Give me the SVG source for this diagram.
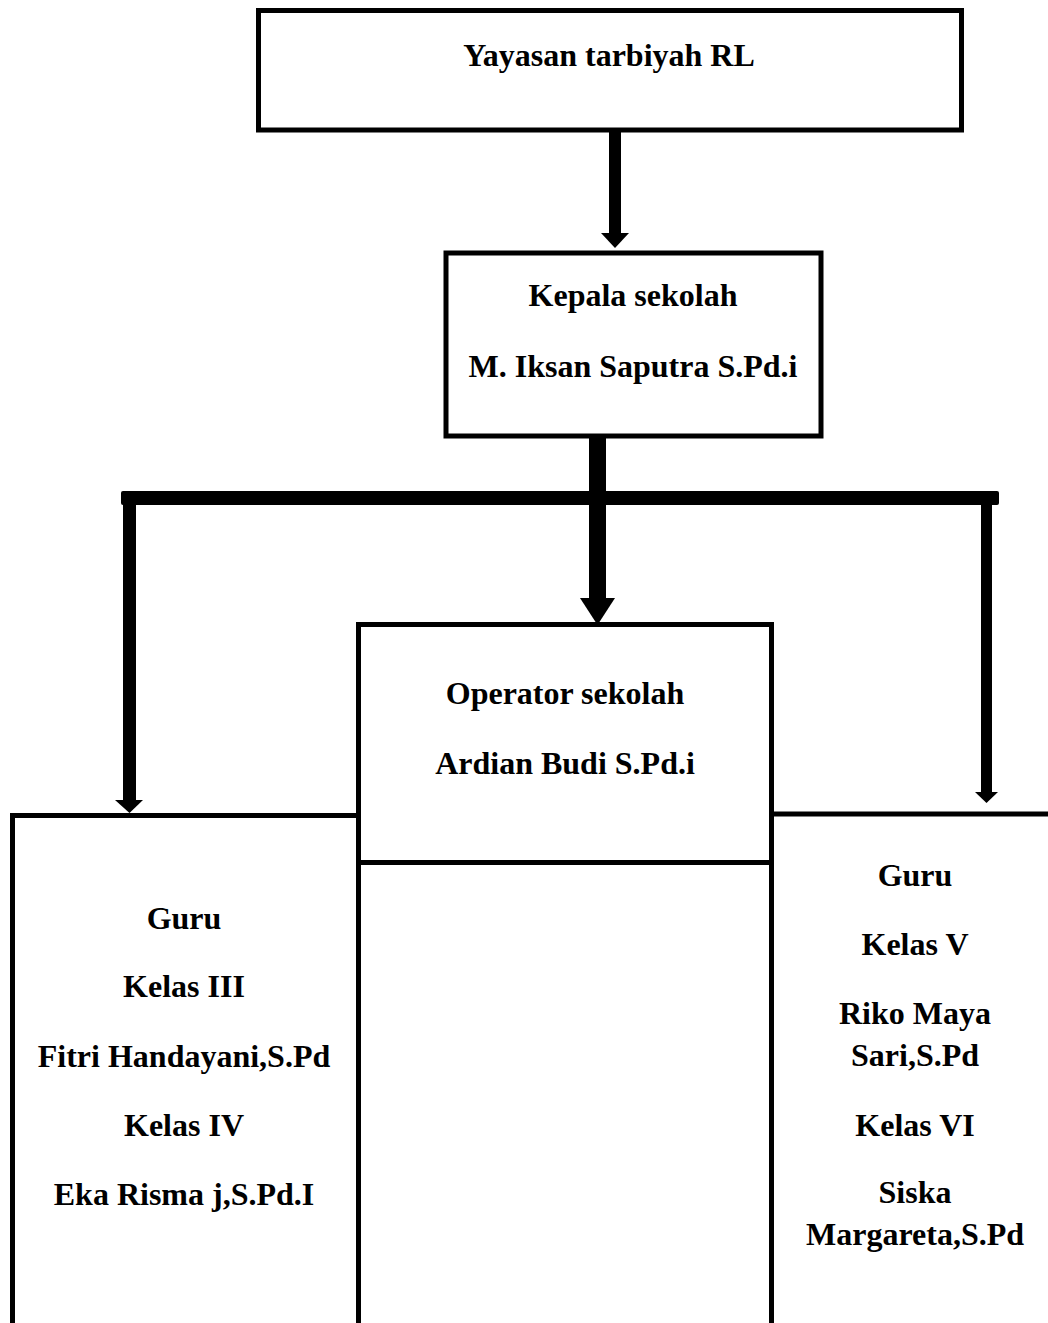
<svg xmlns="http://www.w3.org/2000/svg" width="1048" height="1323" viewBox="0 0 1048 1323">
<style>
.box{fill:#fff;stroke:#000;stroke-width:5}
.ln{fill:none;stroke:#000;stroke-width:5}
.t{font-family:"Liberation Serif","Times New Roman",serif;font-weight:bold;font-size:32px;fill:#000;text-anchor:middle}
.sh{fill:#000}
</style>
<rect width="1048" height="1323" fill="#fff"/>
<g id="connectors">
  <rect class="sh" x="609" y="130" width="12" height="104"/>
  <polygon class="sh" points="601,233 629,233 615,248"/>
  <rect class="sh" x="589" y="436" width="17" height="163"/>
  <polygon class="sh" points="580,598 615,598 597.5,625"/>
  <rect class="sh" x="121" y="491" width="878" height="14" rx="2"/>
  <rect class="sh" x="123" y="491" width="13" height="310"/>
  <polygon class="sh" points="115,800 143,800 129.5,813"/>
  <rect class="sh" x="981" y="491" width="11" height="302"/>
  <polygon class="sh" points="975,792 998,792 986.5,803"/>
</g>
<g id="yayasan">
  <rect class="box" x="258.5" y="10.5" width="703" height="119.5"/>
  <text class="t" x="609" y="66">Yayasan tarbiyah RL</text>
</g>
<g id="kepala">
  <rect class="box" x="446" y="253" width="375" height="183"/>
  <text class="t" x="633" y="306">Kepala sekolah</text>
  <text class="t" x="633" y="377">M. Iksan Saputra S.Pd.i</text>
</g>
<g id="guru-kiri">
  <path class="ln" d="M12.5,1330 V815.5 H359"/>
  <text class="t" x="184" y="929">Guru</text>
  <text class="t" x="184" y="997">Kelas III</text>
  <text class="t" x="184" y="1067">Fitri Handayani,S.Pd</text>
  <text class="t" x="184" y="1136">Kelas IV</text>
  <text class="t" x="184" y="1205">Eka Risma j,S.Pd.I</text>
</g>
<g id="guru-kanan">
  <path class="ln" d="M771.5,814 H1052"/>
  <text class="t" x="915" y="886">Guru</text>
  <text class="t" x="915" y="955">Kelas V</text>
  <text class="t" x="915" y="1024">Riko Maya</text>
  <text class="t" x="915" y="1066">Sari,S.Pd</text>
  <text class="t" x="915" y="1136">Kelas VI</text>
  <text class="t" x="915" y="1203">Siska</text>
  <text class="t" x="915" y="1245">Margareta,S.Pd</text>
</g>
<g id="operator">
  <path class="ln" d="M358.5,1330 V624.5 H771.5 V1330 M358.5,862.5 H771.5"/>
  <text class="t" x="565" y="704">Operator sekolah</text>
  <text class="t" x="565" y="774">Ardian Budi S.Pd.i</text>
</g>
</svg>
